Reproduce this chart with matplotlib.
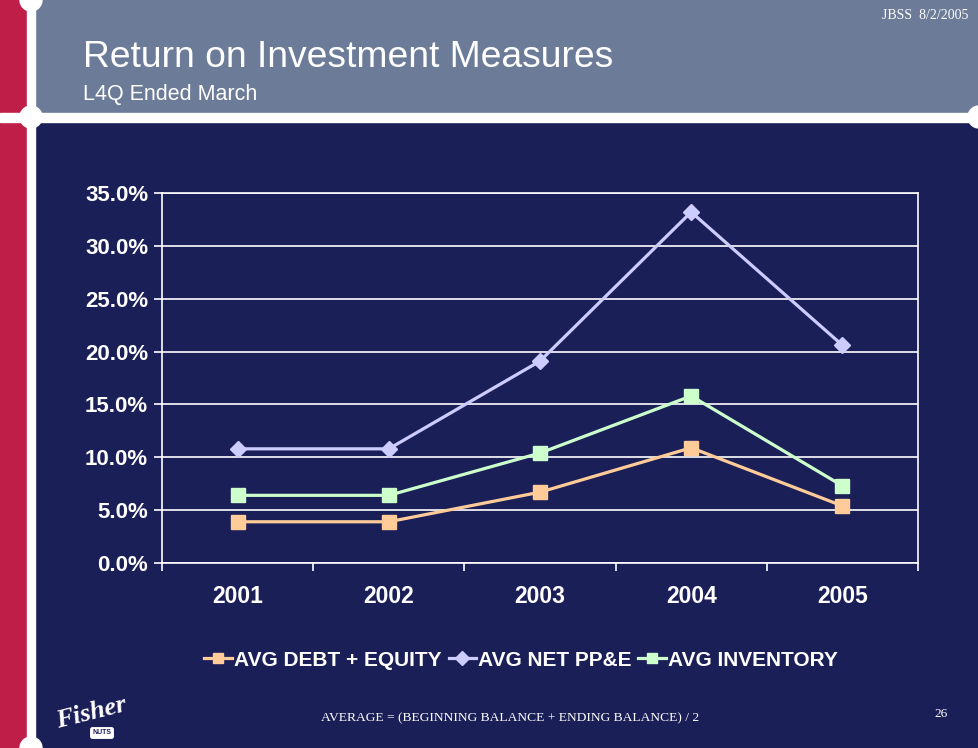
import matplotlib.pyplot as plt
from matplotlib.patches import Rectangle, Circle
from matplotlib.ticker import FixedLocator, NullFormatter

# data
years = ['2001', '2002', '2003', '2004', '2005']
debt_equity = [3.9, 3.9, 6.7, 10.9, 5.4]
net_ppe = [10.8, 10.8, 19.1, 33.2, 20.6]
inventory = [6.4, 6.4, 10.4, 15.8, 7.3]
series_names = ['AVG DEBT + EQUITY', 'AVG NET PP&E', 'AVG INVENTORY']
y_ticks = [0, 5, 10, 15, 20, 25, 30, 35]

W, H = 979, 748
navy = '#1b1f58'
header = '#6b7b98'
red = '#be1e48'

plt.rcParams['font.family'] = ['Liberation Sans', 'DejaVu Sans']

fig = plt.figure(figsize=(W / 100, H / 100), dpi=100)
fig.patch.set_facecolor(navy)

# slide background drawn in pixel coordinates
bg = fig.add_axes([0, 0, 1, 1], zorder=0)
bg.set_xlim(0, W)
bg.set_ylim(H, 0)
bg.axis('off')
bg.add_patch(Rectangle((35, 0), W - 35, 114, color=header))
bg.add_patch(Rectangle((0, 0), 27, H, color=red))
bg.add_patch(Rectangle((27, 0), 8, H, color='white'))
bg.add_patch(Rectangle((0, 113), W, 9, color='white'))
for cx, cy in [(31, 117), (31, 0), (31, H), (W, 117)]:
    bg.add_patch(Circle((cx, cy), 11, color='white'))

bg.text(83, 57, 'Return on Investment Measures', color='white', fontsize=26.8,
        va='center', ha='left')
bg.text(83, 94, 'L4Q Ended March', color='white', fontsize=15.5,
        va='center', ha='left')
bg.text(968, 15, 'JBSS  8/2/2005', color='white', fontsize=10,
        family='Liberation Serif', va='center', ha='right')
bg.text(510, 718, 'AVERAGE = (BEGINNING BALANCE + ENDING BALANCE) / 2',
        color='white', fontsize=9.7, family='Liberation Serif', va='center', ha='center')
bg.text(941, 714, '26', color='white', fontsize=9.5, family='Liberation Serif',
        va='center', ha='center')
# logo
bg.text(91, 713, 'Fisher', color='white', fontsize=19, fontweight='bold',
        style='italic', family='Liberation Serif', rotation=14, va='center', ha='center')
bg.text(102, 733, 'NUTS', color=navy, fontsize=5, fontweight='bold',
        va='center', ha='center',
        bbox=dict(boxstyle='round,pad=0.25', fc='white', ec='white'))

# chart
ax = fig.add_axes([162 / W, 1 - 563 / H, (918 - 162) / W, (563 - 193) / H], zorder=2)
ax.set_facecolor('none')
x = range(len(years))
ax.plot(x, debt_equity, color='#ffcc99', lw=2.3, marker='s', ms=9.5,
        label=series_names[0], zorder=3)
ax.plot(x, net_ppe, color='#ccccff', lw=2.3, marker='D', ms=8,
        label=series_names[1], zorder=3)
ax.plot(x, inventory, color='#ccffcc', lw=2.3, marker='s', ms=9.5,
        label=series_names[2], zorder=3)

ax.set_xlim(-0.5, len(years) - 0.5)
ax.set_ylim(0, 35)
ax.set_yticks(y_ticks)
ax.set_yticklabels([f'{v:.1f}%' for v in y_ticks])
ax.yaxis.grid(True, color='white', lw=1.2)
ax.set_axisbelow(True)

ax.set_xticks(list(x))
ax.set_xticklabels(years)
ax.xaxis.set_minor_locator(FixedLocator([i - 0.5 for i in range(len(years) + 1)]))
ax.xaxis.set_minor_formatter(NullFormatter())
ax.tick_params(axis='x', which='major', length=0, pad=16, labelsize=16.5,
               labelcolor='white')
ax.tick_params(axis='x', which='minor', length=6, width=1.2, color='white')
ax.tick_params(axis='y', length=6, width=1.2, color='white', labelsize=16,
               labelcolor='white', pad=4)
for lbl in ax.get_xticklabels() + ax.get_yticklabels():
    lbl.set_fontweight('bold')
for s in ax.spines.values():
    s.set_color('white')
    s.set_linewidth(1.2)

leg = fig.legend(loc='center', bbox_to_anchor=(521 / W, 1 - 660 / H), ncol=3,
                 frameon=False, handlelength=1.3, handletextpad=0.1,
                 columnspacing=0.35, prop={'weight': 'bold', 'size': 15})
for t in leg.get_texts():
    t.set_color('white')
for h in leg.legend_handles:
    h.set_markersize(7)

fig.savefig('out.png', dpi=100, facecolor=navy)
